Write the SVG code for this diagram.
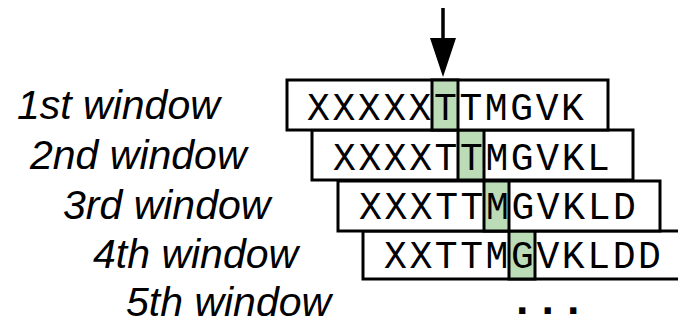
<svg xmlns="http://www.w3.org/2000/svg" width="678" height="321" viewBox="0 0 678 321">
<style>
.box{fill:#ffffff;stroke:#000;stroke-width:3}
.hl{fill:#bcdcb8;stroke:#000;stroke-width:3}
.seq{font-family:"Liberation Mono","DejaVu Sans Mono",monospace;font-size:38px;letter-spacing:2.6px;fill:#000}
.dots{font-family:"Liberation Mono","DejaVu Sans Mono",monospace;font-size:44px;letter-spacing:-0.9px;font-weight:bold;fill:#000}
.lab{font-family:"Liberation Sans",Arial,sans-serif;font-style:italic;font-size:41px;fill:#000}
</style>
<g id="labels">
<text class="lab" x="17" y="119">1st window</text>
<text class="lab" x="30" y="169">2nd window</text>
<text class="lab" x="63" y="219">3rd window</text>
<text class="lab" x="93" y="268">4th window</text>
<text class="lab" x="126" y="316">5th window</text>
</g>
<g id="window4">
<rect class="box" x="363" y="231" width="323" height="48"/>
<rect class="hl" x="509" y="231" width="26" height="48"/>
<text class="seq" x="384" y="268">XXTTMGVKLDD</text>
</g>
<g id="window3">
<rect class="box" x="338" y="181" width="322" height="50"/>
<rect class="hl" x="484" y="181" width="25" height="50"/>
<text class="seq" x="359" y="219">XXXTTMGVKLD</text>
</g>
<g id="window2">
<rect class="box" x="312" y="130" width="321" height="50"/>
<rect class="hl" x="458" y="130" width="26" height="50"/>
<text class="seq" x="333" y="170">XXXXTTMGVKL</text>
</g>
<g id="window1">
<rect class="box" x="287" y="80" width="321" height="50"/>
<rect class="hl" x="432" y="80" width="26" height="50"/>
<text class="seq" x="307" y="120">XXXXXTTMGVK</text>
</g>
<g id="window5">
<text class="dots" x="509" y="314">...</text>
</g>
<g id="connectors">
<line x1="443" y1="8" x2="443" y2="40" stroke="#000" stroke-width="3.5"/>
<polygon points="430,38 456,38 443,77" fill="#000"/>
</g>
</svg>
